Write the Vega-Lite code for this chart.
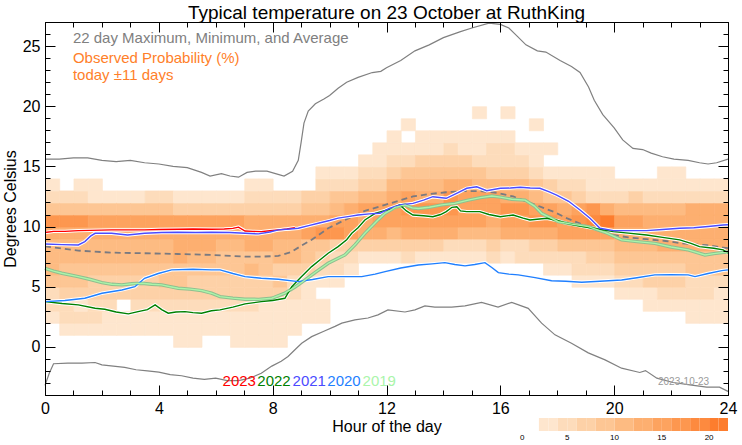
{
"$schema":"https://vega.github.io/schema/vega-lite/v6.json",
"width":683,"height":373,
"autosize":"none",
"padding":{"left":45,"top":22,"right":14,"bottom":50},
"config":{"font":"Liberation Sans","view":{"stroke":null},"axis":{"labelColor":"black","titleColor":"black","grid":false}},
"title":{"text":"Typical temperature on 23 October at RuthKing","fontSize":19,"fontWeight":"normal","color":"black","anchor":"middle","offset":-2},
"resolve":{"scale":{"color":"independent","strokeWidth":"independent"},"axis":{"x":"independent","y":"independent"}},
"datasets":{
"heat":[
{"h":0,"t":2,"p":3},{"h":0,"t":3,"p":5},{"h":0,"t":4,"p":5},{"h":0,"t":5,"p":9},{"h":0,"t":6,"p":11},{"h":0,"t":7,"p":11},{"h":0,"t":8,"p":11},{"h":0,"t":9,"p":13},{"h":0,"t":10,"p":17},{"h":0,"t":11,"p":9},{"h":0,"t":12,"p":5},{"h":0,"t":13,"p":3},
{"h":0.5,"t":1,"p":3},{"h":0.5,"t":2,"p":5},{"h":0.5,"t":3,"p":5},{"h":0.5,"t":4,"p":7},{"h":0.5,"t":5,"p":9},{"h":0.5,"t":6,"p":9},{"h":0.5,"t":7,"p":11},{"h":0.5,"t":8,"p":11},{"h":0.5,"t":9,"p":13},{"h":0.5,"t":10,"p":17},{"h":0.5,"t":11,"p":9},{"h":0.5,"t":12,"p":5},
{"h":1,"t":1,"p":3},{"h":1,"t":2,"p":5},{"h":1,"t":3,"p":3},{"h":1,"t":4,"p":7},{"h":1,"t":5,"p":9},{"h":1,"t":6,"p":9},{"h":1,"t":7,"p":11},{"h":1,"t":8,"p":11},{"h":1,"t":9,"p":13},{"h":1,"t":10,"p":17},{"h":1,"t":11,"p":9},{"h":1,"t":12,"p":5},{"h":1,"t":13,"p":3},
{"h":1.5,"t":1,"p":3},{"h":1.5,"t":2,"p":5},{"h":1.5,"t":3,"p":5},{"h":1.5,"t":4,"p":7},{"h":1.5,"t":5,"p":7},{"h":1.5,"t":6,"p":9},{"h":1.5,"t":7,"p":11},{"h":1.5,"t":8,"p":11},{"h":1.5,"t":9,"p":13},{"h":1.5,"t":10,"p":15},{"h":1.5,"t":11,"p":9},{"h":1.5,"t":12,"p":3},{"h":1.5,"t":13,"p":3},
{"h":2,"t":1,"p":3},{"h":2,"t":2,"p":3},{"h":2,"t":3,"p":5},{"h":2,"t":4,"p":7},{"h":2,"t":5,"p":7},{"h":2,"t":6,"p":9},{"h":2,"t":7,"p":11},{"h":2,"t":8,"p":11},{"h":2,"t":9,"p":13},{"h":2,"t":10,"p":15},{"h":2,"t":11,"p":9},{"h":2,"t":12,"p":3},
{"h":2.5,"t":1,"p":3},{"h":2.5,"t":2,"p":3},{"h":2.5,"t":4,"p":7},{"h":2.5,"t":5,"p":7},{"h":2.5,"t":6,"p":9},{"h":2.5,"t":7,"p":11},{"h":2.5,"t":8,"p":11},{"h":2.5,"t":9,"p":13},{"h":2.5,"t":10,"p":15},{"h":2.5,"t":11,"p":9},{"h":2.5,"t":12,"p":3},
{"h":3,"t":1,"p":3},{"h":3,"t":2,"p":3},{"h":3,"t":3,"p":5},{"h":3,"t":4,"p":7},{"h":3,"t":5,"p":7},{"h":3,"t":6,"p":9},{"h":3,"t":7,"p":11},{"h":3,"t":8,"p":11},{"h":3,"t":9,"p":13},{"h":3,"t":10,"p":15},{"h":3,"t":11,"p":9},{"h":3,"t":12,"p":3},
{"h":3.5,"t":1,"p":3},{"h":3.5,"t":2,"p":3},{"h":3.5,"t":3,"p":5},{"h":3.5,"t":4,"p":7},{"h":3.5,"t":5,"p":7},{"h":3.5,"t":6,"p":9},{"h":3.5,"t":7,"p":11},{"h":3.5,"t":8,"p":11},{"h":3.5,"t":9,"p":13},{"h":3.5,"t":10,"p":15},{"h":3.5,"t":11,"p":9},{"h":3.5,"t":12,"p":5},
{"h":4,"t":1,"p":3},{"h":4,"t":2,"p":3},{"h":4,"t":3,"p":5},{"h":4,"t":4,"p":7},{"h":4,"t":5,"p":9},{"h":4,"t":6,"p":9},{"h":4,"t":7,"p":11},{"h":4,"t":8,"p":11},{"h":4,"t":9,"p":13},{"h":4,"t":10,"p":15},{"h":4,"t":11,"p":9},{"h":4,"t":12,"p":5},
{"h":4.5,"t":0,"p":3},{"h":4.5,"t":1,"p":3},{"h":4.5,"t":2,"p":3},{"h":4.5,"t":3,"p":5},{"h":4.5,"t":4,"p":7},{"h":4.5,"t":5,"p":9},{"h":4.5,"t":6,"p":9},{"h":4.5,"t":7,"p":13},{"h":4.5,"t":8,"p":13},{"h":4.5,"t":9,"p":13},{"h":4.5,"t":10,"p":15},{"h":4.5,"t":11,"p":7},{"h":4.5,"t":12,"p":3},
{"h":5,"t":0,"p":3},{"h":5,"t":1,"p":3},{"h":5,"t":2,"p":3},{"h":5,"t":3,"p":5},{"h":5,"t":4,"p":7},{"h":5,"t":5,"p":7},{"h":5,"t":6,"p":9},{"h":5,"t":7,"p":11},{"h":5,"t":8,"p":13},{"h":5,"t":9,"p":13},{"h":5,"t":10,"p":15},{"h":5,"t":11,"p":7},{"h":5,"t":12,"p":3},
{"h":5.5,"t":1,"p":3},{"h":5.5,"t":2,"p":3},{"h":5.5,"t":3,"p":5},{"h":5.5,"t":4,"p":7},{"h":5.5,"t":5,"p":7},{"h":5.5,"t":6,"p":9},{"h":5.5,"t":7,"p":11},{"h":5.5,"t":8,"p":13},{"h":5.5,"t":9,"p":13},{"h":5.5,"t":10,"p":15},{"h":5.5,"t":11,"p":7},{"h":5.5,"t":12,"p":3},
{"h":6,"t":1,"p":3},{"h":6,"t":2,"p":3},{"h":6,"t":3,"p":5},{"h":6,"t":4,"p":7},{"h":6,"t":5,"p":7},{"h":6,"t":6,"p":9},{"h":6,"t":7,"p":9},{"h":6,"t":8,"p":11},{"h":6,"t":9,"p":13},{"h":6,"t":10,"p":15},{"h":6,"t":11,"p":7},{"h":6,"t":12,"p":3},
{"h":6.5,"t":0,"p":3},{"h":6.5,"t":1,"p":3},{"h":6.5,"t":2,"p":3},{"h":6.5,"t":3,"p":5},{"h":6.5,"t":4,"p":7},{"h":6.5,"t":5,"p":7},{"h":6.5,"t":6,"p":9},{"h":6.5,"t":7,"p":9},{"h":6.5,"t":8,"p":11},{"h":6.5,"t":9,"p":13},{"h":6.5,"t":10,"p":15},{"h":6.5,"t":11,"p":7},{"h":6.5,"t":12,"p":3},
{"h":7,"t":0,"p":3},{"h":7,"t":1,"p":3},{"h":7,"t":2,"p":3},{"h":7,"t":3,"p":5},{"h":7,"t":4,"p":7},{"h":7,"t":5,"p":7},{"h":7,"t":6,"p":11},{"h":7,"t":7,"p":9},{"h":7,"t":8,"p":13},{"h":7,"t":9,"p":13},{"h":7,"t":10,"p":13},{"h":7,"t":11,"p":7},{"h":7,"t":12,"p":5},{"h":7,"t":13,"p":3},
{"h":7.5,"t":0,"p":3},{"h":7.5,"t":1,"p":3},{"h":7.5,"t":2,"p":3},{"h":7.5,"t":3,"p":3},{"h":7.5,"t":4,"p":7},{"h":7.5,"t":5,"p":7},{"h":7.5,"t":6,"p":9},{"h":7.5,"t":7,"p":9},{"h":7.5,"t":8,"p":13},{"h":7.5,"t":9,"p":13},{"h":7.5,"t":10,"p":13},{"h":7.5,"t":11,"p":7},{"h":7.5,"t":12,"p":5},{"h":7.5,"t":13,"p":3},
{"h":8,"t":0,"p":3},{"h":8,"t":1,"p":3},{"h":8,"t":2,"p":3},{"h":8,"t":3,"p":3},{"h":8,"t":4,"p":7},{"h":8,"t":5,"p":9},{"h":8,"t":6,"p":7},{"h":8,"t":7,"p":11},{"h":8,"t":8,"p":11},{"h":8,"t":9,"p":13},{"h":8,"t":10,"p":13},{"h":8,"t":11,"p":7},{"h":8,"t":12,"p":5},
{"h":8.5,"t":1,"p":3},{"h":8.5,"t":2,"p":3},{"h":8.5,"t":3,"p":3},{"h":8.5,"t":4,"p":5},{"h":8.5,"t":5,"p":5},{"h":8.5,"t":6,"p":7},{"h":8.5,"t":7,"p":11},{"h":8.5,"t":8,"p":11},{"h":8.5,"t":9,"p":13},{"h":8.5,"t":10,"p":13},{"h":8.5,"t":11,"p":7},{"h":8.5,"t":12,"p":5},
{"h":9,"t":2,"p":3},{"h":9,"t":3,"p":3},{"h":9,"t":4,"p":3},{"h":9,"t":5,"p":3},{"h":9,"t":6,"p":7},{"h":9,"t":7,"p":9},{"h":9,"t":8,"p":9},{"h":9,"t":9,"p":15},{"h":9,"t":10,"p":13},{"h":9,"t":11,"p":9},{"h":9,"t":12,"p":7},
{"h":9.5,"t":2,"p":3},{"h":9.5,"t":3,"p":3},{"h":9.5,"t":5,"p":3},{"h":9.5,"t":6,"p":5},{"h":9.5,"t":7,"p":7},{"h":9.5,"t":8,"p":9},{"h":9.5,"t":9,"p":17},{"h":9.5,"t":10,"p":13},{"h":9.5,"t":11,"p":9},{"h":9.5,"t":12,"p":7},{"h":9.5,"t":13,"p":5},{"h":9.5,"t":14,"p":3},
{"h":10,"t":5,"p":3},{"h":10,"t":6,"p":5},{"h":10,"t":7,"p":5},{"h":10,"t":8,"p":7},{"h":10,"t":9,"p":17},{"h":10,"t":10,"p":15},{"h":10,"t":11,"p":11},{"h":10,"t":12,"p":9},{"h":10,"t":13,"p":5},{"h":10,"t":14,"p":3},
{"h":10.5,"t":6,"p":3},{"h":10.5,"t":7,"p":5},{"h":10.5,"t":8,"p":7},{"h":10.5,"t":9,"p":15},{"h":10.5,"t":10,"p":15},{"h":10.5,"t":11,"p":13},{"h":10.5,"t":12,"p":9},{"h":10.5,"t":13,"p":5},{"h":10.5,"t":14,"p":3},
{"h":11,"t":7,"p":3},{"h":11,"t":8,"p":7},{"h":11,"t":9,"p":13},{"h":11,"t":10,"p":13},{"h":11,"t":11,"p":15},{"h":11,"t":12,"p":11},{"h":11,"t":13,"p":7},{"h":11,"t":14,"p":5},{"h":11,"t":15,"p":3},
{"h":11.5,"t":7,"p":3},{"h":11.5,"t":8,"p":7},{"h":11.5,"t":9,"p":13},{"h":11.5,"t":10,"p":15},{"h":11.5,"t":11,"p":15},{"h":11.5,"t":12,"p":11},{"h":11.5,"t":13,"p":7},{"h":11.5,"t":14,"p":5},{"h":11.5,"t":15,"p":3},{"h":11.5,"t":16,"p":3},
{"h":12,"t":7,"p":3},{"h":12,"t":8,"p":7},{"h":12,"t":9,"p":11},{"h":12,"t":10,"p":15},{"h":12,"t":11,"p":15},{"h":12,"t":12,"p":13},{"h":12,"t":13,"p":11},{"h":12,"t":14,"p":7},{"h":12,"t":15,"p":5},{"h":12,"t":16,"p":3},{"h":12,"t":17,"p":3},
{"h":12.5,"t":7,"p":5},{"h":12.5,"t":8,"p":7},{"h":12.5,"t":9,"p":13},{"h":12.5,"t":10,"p":15},{"h":12.5,"t":11,"p":17},{"h":12.5,"t":12,"p":15},{"h":12.5,"t":13,"p":11},{"h":12.5,"t":14,"p":9},{"h":12.5,"t":15,"p":5},{"h":12.5,"t":16,"p":3},{"h":12.5,"t":18,"p":3},
{"h":13,"t":7,"p":3},{"h":13,"t":8,"p":7},{"h":13,"t":9,"p":13},{"h":13,"t":10,"p":15},{"h":13,"t":11,"p":17},{"h":13,"t":12,"p":13},{"h":13,"t":13,"p":11},{"h":13,"t":14,"p":9},{"h":13,"t":15,"p":7},{"h":13,"t":16,"p":3},{"h":13,"t":17,"p":3},
{"h":13.5,"t":7,"p":3},{"h":13.5,"t":8,"p":7},{"h":13.5,"t":9,"p":13},{"h":13.5,"t":10,"p":15},{"h":13.5,"t":11,"p":17},{"h":13.5,"t":12,"p":13},{"h":13.5,"t":13,"p":11},{"h":13.5,"t":14,"p":9},{"h":13.5,"t":15,"p":7},{"h":13.5,"t":16,"p":3},{"h":13.5,"t":17,"p":3},
{"h":14,"t":7,"p":3},{"h":14,"t":8,"p":5},{"h":14,"t":9,"p":13},{"h":14,"t":10,"p":15},{"h":14,"t":11,"p":17},{"h":14,"t":12,"p":17},{"h":14,"t":13,"p":13},{"h":14,"t":14,"p":9},{"h":14,"t":15,"p":7},{"h":14,"t":16,"p":5},{"h":14,"t":17,"p":3},
{"h":14.5,"t":7,"p":3},{"h":14.5,"t":8,"p":5},{"h":14.5,"t":9,"p":11},{"h":14.5,"t":10,"p":15},{"h":14.5,"t":11,"p":15},{"h":14.5,"t":12,"p":15},{"h":14.5,"t":13,"p":13},{"h":14.5,"t":14,"p":9},{"h":14.5,"t":15,"p":7},{"h":14.5,"t":16,"p":3},{"h":14.5,"t":17,"p":3},
{"h":15,"t":7,"p":3},{"h":15,"t":8,"p":5},{"h":15,"t":9,"p":11},{"h":15,"t":10,"p":15},{"h":15,"t":11,"p":15},{"h":15,"t":12,"p":15},{"h":15,"t":13,"p":11},{"h":15,"t":14,"p":9},{"h":15,"t":15,"p":5},{"h":15,"t":16,"p":3},{"h":15,"t":17,"p":3},{"h":15,"t":19,"p":3},
{"h":15.5,"t":7,"p":5},{"h":15.5,"t":8,"p":7},{"h":15.5,"t":9,"p":11},{"h":15.5,"t":10,"p":13},{"h":15.5,"t":11,"p":15},{"h":15.5,"t":12,"p":15},{"h":15.5,"t":13,"p":11},{"h":15.5,"t":14,"p":7},{"h":15.5,"t":15,"p":5},{"h":15.5,"t":16,"p":5},{"h":15.5,"t":17,"p":3},
{"h":16,"t":7,"p":3},{"h":16,"t":8,"p":5},{"h":16,"t":9,"p":13},{"h":16,"t":10,"p":15},{"h":16,"t":11,"p":17},{"h":16,"t":12,"p":13},{"h":16,"t":13,"p":11},{"h":16,"t":14,"p":7},{"h":16,"t":15,"p":5},{"h":16,"t":16,"p":5},{"h":16,"t":17,"p":3},{"h":16,"t":19,"p":3},
{"h":16.5,"t":7,"p":5},{"h":16.5,"t":8,"p":5},{"h":16.5,"t":9,"p":13},{"h":16.5,"t":10,"p":15},{"h":16.5,"t":11,"p":17},{"h":16.5,"t":12,"p":13},{"h":16.5,"t":13,"p":11},{"h":16.5,"t":14,"p":7},{"h":16.5,"t":15,"p":5},{"h":16.5,"t":16,"p":3},
{"h":17,"t":7,"p":5},{"h":17,"t":8,"p":7},{"h":17,"t":9,"p":13},{"h":17,"t":10,"p":17},{"h":17,"t":11,"p":15},{"h":17,"t":12,"p":11},{"h":17,"t":13,"p":9},{"h":17,"t":14,"p":5},{"h":17,"t":15,"p":3},{"h":17,"t":16,"p":3},{"h":17,"t":18,"p":3},
{"h":17.5,"t":6,"p":3},{"h":17.5,"t":7,"p":5},{"h":17.5,"t":8,"p":7},{"h":17.5,"t":9,"p":13},{"h":17.5,"t":10,"p":17},{"h":17.5,"t":11,"p":15},{"h":17.5,"t":12,"p":9},{"h":17.5,"t":13,"p":7},{"h":17.5,"t":14,"p":3},{"h":17.5,"t":16,"p":3},
{"h":18,"t":6,"p":3},{"h":18,"t":7,"p":5},{"h":18,"t":8,"p":9},{"h":18,"t":9,"p":15},{"h":18,"t":10,"p":15},{"h":18,"t":11,"p":13},{"h":18,"t":12,"p":9},{"h":18,"t":13,"p":5},{"h":18,"t":14,"p":3},
{"h":18.5,"t":5,"p":3},{"h":18.5,"t":6,"p":5},{"h":18.5,"t":7,"p":5},{"h":18.5,"t":8,"p":9},{"h":18.5,"t":9,"p":15},{"h":18.5,"t":10,"p":17},{"h":18.5,"t":11,"p":15},{"h":18.5,"t":12,"p":7},{"h":18.5,"t":13,"p":5},{"h":18.5,"t":14,"p":3},
{"h":19,"t":5,"p":3},{"h":19,"t":6,"p":5},{"h":19,"t":7,"p":7},{"h":19,"t":8,"p":9},{"h":19,"t":9,"p":15},{"h":19,"t":10,"p":19},{"h":19,"t":11,"p":17},{"h":19,"t":12,"p":5},{"h":19,"t":13,"p":3},{"h":19,"t":14,"p":3},
{"h":19.5,"t":5,"p":3},{"h":19.5,"t":6,"p":5},{"h":19.5,"t":7,"p":7},{"h":19.5,"t":8,"p":9},{"h":19.5,"t":9,"p":15},{"h":19.5,"t":10,"p":21},{"h":19.5,"t":11,"p":13},{"h":19.5,"t":12,"p":5},{"h":19.5,"t":13,"p":3},{"h":19.5,"t":14,"p":3},
{"h":20,"t":4,"p":3},{"h":20,"t":5,"p":5},{"h":20,"t":6,"p":7},{"h":20,"t":7,"p":9},{"h":20,"t":8,"p":11},{"h":20,"t":9,"p":13},{"h":20,"t":10,"p":15},{"h":20,"t":11,"p":11},{"h":20,"t":12,"p":5},{"h":20,"t":13,"p":3},
{"h":20.5,"t":4,"p":3},{"h":20.5,"t":5,"p":5},{"h":20.5,"t":6,"p":7},{"h":20.5,"t":7,"p":9},{"h":20.5,"t":8,"p":11},{"h":20.5,"t":9,"p":13},{"h":20.5,"t":10,"p":15},{"h":20.5,"t":11,"p":11},{"h":20.5,"t":12,"p":7},{"h":20.5,"t":13,"p":3},
{"h":21,"t":3,"p":3},{"h":21,"t":4,"p":3},{"h":21,"t":5,"p":7},{"h":21,"t":6,"p":7},{"h":21,"t":7,"p":9},{"h":21,"t":8,"p":11},{"h":21,"t":9,"p":13},{"h":21,"t":10,"p":13},{"h":21,"t":11,"p":11},{"h":21,"t":12,"p":5},{"h":21,"t":13,"p":3},
{"h":21.5,"t":3,"p":3},{"h":21.5,"t":4,"p":5},{"h":21.5,"t":5,"p":7},{"h":21.5,"t":6,"p":7},{"h":21.5,"t":7,"p":9},{"h":21.5,"t":8,"p":13},{"h":21.5,"t":9,"p":13},{"h":21.5,"t":10,"p":13},{"h":21.5,"t":11,"p":11},{"h":21.5,"t":12,"p":5},{"h":21.5,"t":13,"p":3},{"h":21.5,"t":14,"p":3},
{"h":22,"t":3,"p":3},{"h":22,"t":4,"p":5},{"h":22,"t":5,"p":7},{"h":22,"t":6,"p":7},{"h":22,"t":7,"p":9},{"h":22,"t":8,"p":13},{"h":22,"t":9,"p":13},{"h":22,"t":10,"p":13},{"h":22,"t":11,"p":11},{"h":22,"t":12,"p":5},{"h":22,"t":13,"p":3},{"h":22,"t":14,"p":3},
{"h":22.5,"t":2,"p":3},{"h":22.5,"t":3,"p":3},{"h":22.5,"t":4,"p":5},{"h":22.5,"t":5,"p":5},{"h":22.5,"t":6,"p":9},{"h":22.5,"t":7,"p":9},{"h":22.5,"t":8,"p":13},{"h":22.5,"t":9,"p":13},{"h":22.5,"t":10,"p":13},{"h":22.5,"t":11,"p":13},{"h":22.5,"t":12,"p":5},{"h":22.5,"t":13,"p":3},
{"h":23,"t":2,"p":3},{"h":23,"t":3,"p":3},{"h":23,"t":4,"p":5},{"h":23,"t":5,"p":5},{"h":23,"t":6,"p":9},{"h":23,"t":7,"p":9},{"h":23,"t":8,"p":13},{"h":23,"t":9,"p":13},{"h":23,"t":10,"p":13},{"h":23,"t":11,"p":13},{"h":23,"t":12,"p":5},{"h":23,"t":13,"p":3},
{"h":23.5,"t":2,"p":3},{"h":23.5,"t":3,"p":3},{"h":23.5,"t":4,"p":3},{"h":23.5,"t":5,"p":5},{"h":23.5,"t":6,"p":9},{"h":23.5,"t":7,"p":9},{"h":23.5,"t":8,"p":13},{"h":23.5,"t":9,"p":13},{"h":23.5,"t":10,"p":13},{"h":23.5,"t":11,"p":13},{"h":23.5,"t":12,"p":5},{"h":23.5,"t":13,"p":3}
],
"mm":[
{"h":0,"v":15.6,"s":"max"},{"h":0.5,"v":15.6,"s":"max"},{"h":1,"v":15.7,"s":"max"},{"h":1.5,"v":15.7,"s":"max"},{"h":2,"v":15.5,"s":"max"},{"h":2.5,"v":15.4,"s":"max"},{"h":3,"v":15.5,"s":"max"},{"h":3.5,"v":15.3,"s":"max"},{"h":4,"v":15.2,"s":"max"},{"h":4.5,"v":15.0,"s":"max"},{"h":5,"v":14.9,"s":"max"},{"h":5.5,"v":14.5,"s":"max"},{"h":5.8,"v":14.2,"s":"max"},{"h":6.2,"v":14.4,"s":"max"},{"h":6.5,"v":14.2,"s":"max"},{"h":6.8,"v":14.1,"s":"max"},{"h":7.1,"v":14.5,"s":"max"},{"h":7.4,"v":14.6,"s":"max"},{"h":7.8,"v":14.6,"s":"max"},{"h":8.1,"v":14.4,"s":"max"},{"h":8.4,"v":14.2,"s":"max"},{"h":8.7,"v":14.6,"s":"max"},{"h":8.9,"v":15.5,"s":"max"},{"h":9.0,"v":17.0,"s":"max"},{"h":9.1,"v":18.6,"s":"max"},{"h":9.25,"v":19.6,"s":"max"},{"h":9.5,"v":20.2,"s":"max"},{"h":9.8,"v":20.6,"s":"max"},{"h":10,"v":20.9,"s":"max"},{"h":10.3,"v":21.5,"s":"max"},{"h":10.6,"v":22.0,"s":"max"},{"h":11,"v":22.4,"s":"max"},{"h":11.5,"v":22.8,"s":"max"},{"h":11.8,"v":22.9,"s":"max"},{"h":12,"v":23.2,"s":"max"},{"h":12.5,"v":23.8,"s":"max"},{"h":13,"v":24.6,"s":"max"},{"h":13.5,"v":25.1,"s":"max"},{"h":14,"v":25.7,"s":"max"},{"h":14.6,"v":26.2,"s":"max"},{"h":15,"v":26.5,"s":"max"},{"h":15.6,"v":26.9,"s":"max"},{"h":16,"v":26.8,"s":"max"},{"h":16.3,"v":26.5,"s":"max"},{"h":16.6,"v":25.8,"s":"max"},{"h":16.9,"v":25.1,"s":"max"},{"h":17.3,"v":24.6,"s":"max"},{"h":17.6,"v":24.5,"s":"max"},{"h":18.1,"v":23.8,"s":"max"},{"h":18.5,"v":23.3,"s":"max"},{"h":18.8,"v":22.8,"s":"max"},{"h":19.1,"v":21.6,"s":"max"},{"h":19.3,"v":20.5,"s":"max"},{"h":19.6,"v":19.3,"s":"max"},{"h":20,"v":18.2,"s":"max"},{"h":20.3,"v":17.2,"s":"max"},{"h":20.66,"v":16.5,"s":"max"},{"h":21,"v":16.4,"s":"max"},{"h":21.3,"v":16.1,"s":"max"},{"h":21.7,"v":15.8,"s":"max"},{"h":22.1,"v":15.6,"s":"max"},{"h":22.6,"v":15.5,"s":"max"},{"h":23,"v":15.3,"s":"max"},{"h":23.3,"v":15.2,"s":"max"},{"h":23.6,"v":15.3,"s":"max"},{"h":24,"v":15.6,"s":"max"},
{"h":0,"v":-3.2,"s":"min"},{"h":0.15,"v":-2.2,"s":"min"},{"h":0.3,"v":-1.4,"s":"min"},{"h":0.8,"v":-1.35,"s":"min"},{"h":1.3,"v":-1.35,"s":"min"},{"h":1.76,"v":-1.3,"s":"min"},{"h":2,"v":-1.5,"s":"min"},{"h":2.4,"v":-1.6,"s":"min"},{"h":2.8,"v":-1.7,"s":"min"},{"h":3.2,"v":-1.9,"s":"min"},{"h":3.6,"v":-2.0,"s":"min"},{"h":4,"v":-2.1,"s":"min"},{"h":4.4,"v":-2.3,"s":"min"},{"h":4.8,"v":-2.4,"s":"min"},{"h":5.2,"v":-2.6,"s":"min"},{"h":5.6,"v":-2.7,"s":"min"},{"h":6,"v":-2.6,"s":"min"},{"h":6.4,"v":-2.8,"s":"min"},{"h":6.8,"v":-2.8,"s":"min"},{"h":7.2,"v":-2.6,"s":"min"},{"h":7.6,"v":-2.2,"s":"min"},{"h":7.97,"v":-1.6,"s":"min"},{"h":8.3,"v":-1.2,"s":"min"},{"h":8.54,"v":-0.8,"s":"min"},{"h":8.8,"v":-0.2,"s":"min"},{"h":9.02,"v":0.3,"s":"min"},{"h":9.37,"v":0.85,"s":"min"},{"h":9.8,"v":1.3,"s":"min"},{"h":10.19,"v":1.7,"s":"min"},{"h":10.43,"v":1.97,"s":"min"},{"h":10.89,"v":2.24,"s":"min"},{"h":11.35,"v":2.4,"s":"min"},{"h":11.7,"v":2.66,"s":"min"},{"h":12.05,"v":3.07,"s":"min"},{"h":12.65,"v":2.9,"s":"min"},{"h":13,"v":3.07,"s":"min"},{"h":13.35,"v":3.4,"s":"min"},{"h":13.7,"v":3.3,"s":"min"},{"h":14.29,"v":3.3,"s":"min"},{"h":14.76,"v":3.4,"s":"min"},{"h":15.34,"v":3.7,"s":"min"},{"h":15.92,"v":3.3,"s":"min"},{"h":16.4,"v":3.7,"s":"min"},{"h":16.98,"v":3.2,"s":"min"},{"h":17.45,"v":1.97,"s":"min"},{"h":17.92,"v":1.0,"s":"min"},{"h":18.5,"v":0.3,"s":"min"},{"h":19.09,"v":-0.5,"s":"min"},{"h":19.68,"v":-1.08,"s":"min"},{"h":20.26,"v":-1.77,"s":"min"},{"h":20.9,"v":-2.13,"s":"min"},{"h":21.1,"v":-1.97,"s":"min"},{"h":21.5,"v":-2.6,"s":"min"},{"h":22.07,"v":-2.96,"s":"min"},{"h":22.66,"v":-3.16,"s":"min"},{"h":23.25,"v":-3.35,"s":"min"},{"h":23.7,"v":-3.35,"s":"min"},{"h":24,"v":-3.7,"s":"min"}
],
"avg":[
{"h":0,"v":8.35},{"h":0.5,"v":8.2},{"h":1.17,"v":8.0},{"h":2.34,"v":7.83},{"h":3.5,"v":7.78},{"h":4.67,"v":7.72},{"h":5.85,"v":7.64},{"h":7.03,"v":7.5},{"h":7.6,"v":7.5},{"h":8.2,"v":7.56},{"h":8.67,"v":7.9},{"h":9,"v":8.4},{"h":9.37,"v":8.9},{"h":9.95,"v":9.86},{"h":10.54,"v":10.55},{"h":11.24,"v":11.3},{"h":11.95,"v":11.8},{"h":12.5,"v":12.2},{"h":12.93,"v":12.5},{"h":13.5,"v":12.7},{"h":14.1,"v":12.85},{"h":14.7,"v":12.95},{"h":15.28,"v":12.95},{"h":15.9,"v":12.8},{"h":16.45,"v":12.5},{"h":16.9,"v":12.1},{"h":17.4,"v":11.65},{"h":17.9,"v":11.2},{"h":18.33,"v":10.7},{"h":19.05,"v":10.0},{"h":19.96,"v":9.3},{"h":20.5,"v":9.1},{"h":21.14,"v":8.95},{"h":21.8,"v":8.8},{"h":22.4,"v":8.6},{"h":23.25,"v":8.45},{"h":23.83,"v":8.25},{"h":24,"v":8.2}
],
"yrs":[
{"h":0,"v":9.5,"y":"2023"},{"h":0.3,"v":9.6,"y":"2023"},{"h":0.7,"v":9.6,"y":"2023"},{"h":1.17,"v":9.66,"y":"2023"},{"h":1.6,"v":9.68,"y":"2023"},{"h":2.34,"v":9.72,"y":"2023"},{"h":3,"v":9.72,"y":"2023"},{"h":3.5,"v":9.72,"y":"2023"},{"h":4,"v":9.75,"y":"2023"},{"h":4.67,"v":9.77,"y":"2023"},{"h":5.2,"v":9.8,"y":"2023"},{"h":5.85,"v":9.77,"y":"2023"},{"h":6.3,"v":9.8,"y":"2023"},{"h":6.6,"v":9.85,"y":"2023"},{"h":6.8,"v":9.95,"y":"2023"},{"h":7.03,"v":9.63,"y":"2023"},{"h":7.3,"v":9.6,"y":"2023"},{"h":7.6,"v":9.58,"y":"2023"},{"h":7.9,"v":9.65,"y":"2023"},{"h":8.2,"v":9.72,"y":"2023"},{"h":8.5,"v":9.8,"y":"2023"},{"h":8.78,"v":9.9,"y":"2023"},
{"h":0,"v":3.76,"y":"2022"},{"h":0.6,"v":3.6,"y":"2022"},{"h":1.17,"v":3.49,"y":"2022"},{"h":1.76,"v":3.21,"y":"2022"},{"h":2.1,"v":3.13,"y":"2022"},{"h":2.5,"v":2.9,"y":"2022"},{"h":2.93,"v":2.74,"y":"2022"},{"h":3.27,"v":2.93,"y":"2022"},{"h":3.6,"v":3.1,"y":"2022"},{"h":3.87,"v":3.49,"y":"2022"},{"h":4.1,"v":3.1,"y":"2022"},{"h":4.33,"v":2.8,"y":"2022"},{"h":4.6,"v":2.9,"y":"2022"},{"h":4.92,"v":2.93,"y":"2022"},{"h":5.2,"v":2.85,"y":"2022"},{"h":5.5,"v":2.8,"y":"2022"},{"h":5.85,"v":3.0,"y":"2022"},{"h":6.15,"v":3.07,"y":"2022"},{"h":6.6,"v":3.3,"y":"2022"},{"h":7.03,"v":3.57,"y":"2022"},{"h":7.6,"v":3.76,"y":"2022"},{"h":8,"v":3.85,"y":"2022"},{"h":8.43,"v":4.04,"y":"2022"},{"h":8.67,"v":5.0,"y":"2022"},{"h":9,"v":5.8,"y":"2022"},{"h":9.37,"v":6.67,"y":"2022"},{"h":9.7,"v":7.3,"y":"2022"},{"h":9.95,"v":7.78,"y":"2022"},{"h":10.3,"v":8.33,"y":"2022"},{"h":10.6,"v":8.9,"y":"2022"},{"h":10.78,"v":9.44,"y":"2022"},{"h":11,"v":9.9,"y":"2022"},{"h":11.24,"v":10.55,"y":"2022"},{"h":11.6,"v":11.1,"y":"2022"},{"h":11.9,"v":11.3,"y":"2022"},{"h":12.2,"v":11.5,"y":"2022"},{"h":12.47,"v":11.8,"y":"2022"},{"h":12.7,"v":11.3,"y":"2022"},{"h":12.93,"v":10.96,"y":"2022"},{"h":13.3,"v":10.9,"y":"2022"},{"h":13.63,"v":10.82,"y":"2022"},{"h":13.9,"v":11.0,"y":"2022"},{"h":14.1,"v":11.24,"y":"2022"},{"h":14.3,"v":11.6,"y":"2022"},{"h":14.47,"v":11.65,"y":"2022"},{"h":14.6,"v":11.3,"y":"2022"},{"h":14.82,"v":11.24,"y":"2022"},{"h":15.28,"v":11.24,"y":"2022"},{"h":15.6,"v":11.0,"y":"2022"},{"h":16,"v":10.82,"y":"2022"},{"h":16.45,"v":10.96,"y":"2022"},{"h":16.8,"v":10.7,"y":"2022"},{"h":17.04,"v":10.55,"y":"2022"},{"h":17.63,"v":10.69,"y":"2022"},{"h":18,"v":10.5,"y":"2022"},{"h":18.33,"v":10.27,"y":"2022"},{"h":18.8,"v":10.05,"y":"2022"},{"h":19.27,"v":9.86,"y":"2022"},{"h":19.97,"v":9.58,"y":"2022"},{"h":20.5,"v":9.45,"y":"2022"},{"h":21.14,"v":9.3,"y":"2022"},{"h":21.7,"v":9.1,"y":"2022"},{"h":22.3,"v":8.89,"y":"2022"},{"h":22.7,"v":8.6,"y":"2022"},{"h":23,"v":8.33,"y":"2022"},{"h":23.5,"v":8.2,"y":"2022"},{"h":23.83,"v":8.06,"y":"2022"},{"h":24,"v":7.8,"y":"2022"},
{"h":0,"v":8.55,"y":"2021"},{"h":0.6,"v":8.5,"y":"2021"},{"h":1.17,"v":8.47,"y":"2021"},{"h":1.4,"v":8.75,"y":"2021"},{"h":1.6,"v":9.2,"y":"2021"},{"h":1.76,"v":9.44,"y":"2021"},{"h":2.34,"v":9.44,"y":"2021"},{"h":2.9,"v":9.3,"y":"2021"},{"h":3.5,"v":9.44,"y":"2021"},{"h":4.1,"v":9.5,"y":"2021"},{"h":4.67,"v":9.52,"y":"2021"},{"h":5.3,"v":9.5,"y":"2021"},{"h":5.85,"v":9.52,"y":"2021"},{"h":6.5,"v":9.5,"y":"2021"},{"h":7.03,"v":9.44,"y":"2021"},{"h":7.5,"v":9.39,"y":"2021"},{"h":7.9,"v":9.55,"y":"2021"},{"h":8.2,"v":9.72,"y":"2021"},{"h":8.6,"v":9.8,"y":"2021"},{"h":8.9,"v":9.86,"y":"2021"},{"h":9.3,"v":10.1,"y":"2021"},{"h":9.6,"v":10.27,"y":"2021"},{"h":10,"v":10.5,"y":"2021"},{"h":10.3,"v":10.7,"y":"2021"},{"h":10.7,"v":10.85,"y":"2021"},{"h":11,"v":10.96,"y":"2021"},{"h":11.4,"v":11.05,"y":"2021"},{"h":11.77,"v":11.1,"y":"2021"},{"h":12.1,"v":11.5,"y":"2021"},{"h":12.47,"v":11.8,"y":"2021"},{"h":12.93,"v":11.93,"y":"2021"},{"h":13.3,"v":12.2,"y":"2021"},{"h":13.63,"v":12.48,"y":"2021"},{"h":14.1,"v":12.35,"y":"2021"},{"h":14.5,"v":12.8,"y":"2021"},{"h":14.82,"v":13.18,"y":"2021"},{"h":15.17,"v":13.3,"y":"2021"},{"h":15.52,"v":12.98,"y":"2021"},{"h":16,"v":13.18,"y":"2021"},{"h":16.35,"v":13.2,"y":"2021"},{"h":16.7,"v":13.26,"y":"2021"},{"h":17.05,"v":13.2,"y":"2021"},{"h":17.39,"v":13.18,"y":"2021"},{"h":17.7,"v":12.9,"y":"2021"},{"h":17.98,"v":12.62,"y":"2021"},{"h":18.4,"v":12.1,"y":"2021"},{"h":18.8,"v":11.38,"y":"2021"},{"h":19.15,"v":10.69,"y":"2021"},{"h":19.5,"v":9.86,"y":"2021"},{"h":19.97,"v":9.66,"y":"2021"},{"h":20.5,"v":9.66,"y":"2021"},{"h":21.14,"v":9.66,"y":"2021"},{"h":21.7,"v":9.75,"y":"2021"},{"h":22.3,"v":9.86,"y":"2021"},{"h":22.8,"v":9.9,"y":"2021"},{"h":23.3,"v":10.0,"y":"2021"},{"h":23.83,"v":10.13,"y":"2021"},{"h":24,"v":10.15,"y":"2021"},
{"h":0,"v":3.76,"y":"2020"},{"h":0.7,"v":3.85,"y":"2020"},{"h":1.4,"v":4.04,"y":"2020"},{"h":2,"v":4.46,"y":"2020"},{"h":2.7,"v":4.73,"y":"2020"},{"h":3.16,"v":5.0,"y":"2020"},{"h":3.5,"v":5.7,"y":"2020"},{"h":3.98,"v":6.1,"y":"2020"},{"h":4.45,"v":6.4,"y":"2020"},{"h":5.2,"v":6.45,"y":"2020"},{"h":5.85,"v":6.4,"y":"2020"},{"h":6.15,"v":6.4,"y":"2020"},{"h":6.6,"v":6.1,"y":"2020"},{"h":7.03,"v":5.84,"y":"2020"},{"h":7.6,"v":5.7,"y":"2020"},{"h":8.2,"v":5.62,"y":"2020"},{"h":8.9,"v":5.42,"y":"2020"},{"h":9.4,"v":5.6,"y":"2020"},{"h":9.95,"v":5.84,"y":"2020"},{"h":10.5,"v":5.84,"y":"2020"},{"h":11.13,"v":5.84,"y":"2020"},{"h":11.6,"v":6.05,"y":"2020"},{"h":11.95,"v":6.25,"y":"2020"},{"h":12.5,"v":6.55,"y":"2020"},{"h":13.12,"v":6.8,"y":"2020"},{"h":13.6,"v":6.9,"y":"2020"},{"h":14.05,"v":7.0,"y":"2020"},{"h":14.4,"v":6.85,"y":"2020"},{"h":14.76,"v":6.73,"y":"2020"},{"h":15.1,"v":6.85,"y":"2020"},{"h":15.46,"v":7.0,"y":"2020"},{"h":15.7,"v":6.6,"y":"2020"},{"h":15.93,"v":6.17,"y":"2020"},{"h":16.3,"v":6.05,"y":"2020"},{"h":16.63,"v":5.98,"y":"2020"},{"h":17.22,"v":5.76,"y":"2020"},{"h":17.8,"v":5.5,"y":"2020"},{"h":18.3,"v":5.45,"y":"2020"},{"h":18.86,"v":5.37,"y":"2020"},{"h":19.5,"v":5.45,"y":"2020"},{"h":20.26,"v":5.56,"y":"2020"},{"h":20.8,"v":5.75,"y":"2020"},{"h":21.43,"v":5.98,"y":"2020"},{"h":22,"v":6.0,"y":"2020"},{"h":22.6,"v":5.98,"y":"2020"},{"h":22.84,"v":5.84,"y":"2020"},{"h":23.3,"v":6.1,"y":"2020"},{"h":23.78,"v":6.34,"y":"2020"},{"h":24,"v":6.4,"y":"2020"},
{"h":0,"v":6.53,"y":"2019"},{"h":0.3,"v":6.3,"y":"2019"},{"h":0.59,"v":6.12,"y":"2019"},{"h":1.17,"v":5.84,"y":"2019"},{"h":1.6,"v":5.6,"y":"2019"},{"h":2,"v":5.34,"y":"2019"},{"h":2.35,"v":5.2,"y":"2019"},{"h":2.7,"v":5.15,"y":"2019"},{"h":3.05,"v":5.25,"y":"2019"},{"h":3.4,"v":5.29,"y":"2019"},{"h":3.75,"v":5.2,"y":"2019"},{"h":4.1,"v":5.15,"y":"2019"},{"h":4.4,"v":5.0,"y":"2019"},{"h":4.68,"v":4.87,"y":"2019"},{"h":5.1,"v":4.8,"y":"2019"},{"h":5.5,"v":4.68,"y":"2019"},{"h":5.85,"v":4.46,"y":"2019"},{"h":6.15,"v":4.18,"y":"2019"},{"h":6.6,"v":4.05,"y":"2019"},{"h":7.03,"v":3.96,"y":"2019"},{"h":7.5,"v":3.95,"y":"2019"},{"h":7.97,"v":4.04,"y":"2019"},{"h":8.43,"v":4.46,"y":"2019"},{"h":8.8,"v":5.0,"y":"2019"},{"h":9.14,"v":5.56,"y":"2019"},{"h":9.5,"v":6.2,"y":"2019"},{"h":9.95,"v":6.95,"y":"2019"},{"h":10.54,"v":7.64,"y":"2019"},{"h":10.9,"v":8.5,"y":"2019"},{"h":11.24,"v":9.44,"y":"2019"},{"h":11.7,"v":10.55,"y":"2019"},{"h":11.95,"v":11.1,"y":"2019"},{"h":12.3,"v":11.6,"y":"2019"},{"h":12.65,"v":11.8,"y":"2019"},{"h":12.9,"v":11.55,"y":"2019"},{"h":13.12,"v":11.5,"y":"2019"},{"h":13.5,"v":11.6,"y":"2019"},{"h":13.94,"v":11.8,"y":"2019"},{"h":14.4,"v":11.93,"y":"2019"},{"h":14.87,"v":12.2,"y":"2019"},{"h":15.3,"v":12.4,"y":"2019"},{"h":15.7,"v":12.54,"y":"2019"},{"h":16,"v":12.45,"y":"2019"},{"h":16.4,"v":12.27,"y":"2019"},{"h":16.87,"v":12.2,"y":"2019"},{"h":17.2,"v":11.7,"y":"2019"},{"h":17.45,"v":11.1,"y":"2019"},{"h":18.04,"v":10.4,"y":"2019"},{"h":18.5,"v":10.2,"y":"2019"},{"h":19.09,"v":9.99,"y":"2019"},{"h":19.7,"v":9.5,"y":"2019"},{"h":20.26,"v":8.89,"y":"2019"},{"h":20.8,"v":8.75,"y":"2019"},{"h":21.43,"v":8.6,"y":"2019"},{"h":22,"v":8.3,"y":"2019"},{"h":22.6,"v":8.06,"y":"2019"},{"h":23.19,"v":7.64,"y":"2019"},{"h":23.5,"v":7.75,"y":"2019"},{"h":23.78,"v":7.83,"y":"2019"},{"h":24,"v":7.9,"y":"2019"}
]
},
"layer":[
{"data":{"name":"heat"},
 "mark":{"type":"rect","binSpacing":0,"strokeWidth":0.7},
 "encoding":{
  "x":{"field":"h","type":"quantitative","bin":{"binned":true,"step":0.5},"scale":{"domain":[0,24],"nice":false,"zero":false},
       "axis":{"orient":"bottom","values":[0,4,8,12,16,20,24],"format":"d","ticks":false,"domain":false,"labelFontSize":16,"labelPadding":5,"labelFlush":false,"title":"Hour of the day","titleFontSize":16,"titleFontWeight":"normal","titlePadding":2}},
  "y":{"field":"t","type":"quantitative","bin":{"binned":true,"step":1},"scale":{"domain":[-4,27],"nice":false,"zero":false},
       "axis":{"orient":"left","values":[0,5,10,15,20,25],"format":"d","ticks":false,"domain":false,"labelFontSize":16,"labelPadding":5,"title":"Degrees Celsius","titleFontSize":16,"titleFontWeight":"normal","titlePadding":4}},
  "color":{"field":"p","type":"quantitative",
    "scale":{"type":"quantize","domain":[0,22],"nice":false,"zero":false,
      "range":["#ffffff","#ffffff","#fee6ce","#fee6ce","#fddcbb","#fddcbb","#fdd1a7","#fdd1a7","#fdc694","#fdc694","#fdbb82","#fdbb82","#fdaf70","#fdaf70","#fda35f","#fda35f","#fd974f","#fd974f","#fd8a3f","#fd8a3f","#fd7d2e","#fd7d2e"]},
    "legend":{"type":"gradient","orient":"none","direction":"horizontal","legendX":475,"legendY":396,"gradientLength":208,"gradientThickness":13,"title":null,"labelExpr":"datum.index === 0 ? '0' : (datum.value % 5 === 0 ? datum.label : '')","labelFontSize":8,"labelOverlap":false,"labelAlign":"center","labelColor":"black","labelOffset":3}},
  "stroke":{"field":"p","type":"quantitative",
    "scale":{"type":"quantize","domain":[0,22],"nice":false,"zero":false,
      "range":["#ffffff","#ffffff","#fee6ce","#fee6ce","#fddcbb","#fddcbb","#fdd1a7","#fdd1a7","#fdc694","#fdc694","#fdbb82","#fdbb82","#fdaf70","#fdaf70","#fda35f","#fda35f","#fd974f","#fd974f","#fd8a3f","#fd8a3f","#fd7d2e","#fd7d2e"]},
    "legend":null}
 }},
{"data":{"name":"mm"},
 "mark":{"type":"line","color":"#808080","strokeWidth":1.2},
 "encoding":{
  "x":{"field":"h","type":"quantitative","axis":{"orient":"bottom","values":[0,4,8,12,16,20,24],"labels":false,"title":null,"ticks":true,"tickSize":-10,"tickColor":"black","domain":true,"domainColor":"black","zindex":2}},
  "y":{"field":"v","type":"quantitative","axis":{"orient":"left","values":[0,5,10,15,20,25],"labels":false,"title":null,"ticks":true,"tickSize":-10,"tickColor":"black","domain":true,"domainColor":"black","zindex":2}},
  "detail":{"field":"s"}
 }},
{"data":{"name":"avg"},
 "mark":{"type":"line","color":"#7a7a80","strokeWidth":1.8,"strokeDash":[6,4]},
 "encoding":{
  "x":{"field":"h","type":"quantitative","axis":{"orient":"bottom","values":[0,1,2,3,4,5,6,7,8,9,10,11,12,13,14,15,16,17,18,19,20,21,22,23,24],"labels":false,"title":null,"ticks":true,"tickSize":-5,"tickColor":"black","domain":false,"zindex":2}},
  "y":{"field":"v","type":"quantitative","axis":{"orient":"left","values":[-4,-3,-2,-1,0,1,2,3,4,5,6,7,8,9,10,11,12,13,14,15,16,17,18,19,20,21,22,23,24,25,26,27],"labels":false,"title":null,"ticks":true,"tickSize":-5,"tickColor":"black","domain":false,"zindex":2}}
 }},
{"data":{"name":"yrs"},
 "mark":{"type":"line","strokeWidth":3.4},
 "encoding":{
  "x":{"field":"h","type":"quantitative","axis":{"orient":"top","values":[0,4,8,12,16,20,24],"labels":false,"title":null,"ticks":true,"tickSize":-10,"tickColor":"black","domain":true,"domainColor":"black","zindex":2}},
  "y":{"field":"v","type":"quantitative","axis":{"orient":"right","values":[0,5,10,15,20,25],"labels":false,"title":null,"ticks":true,"tickSize":-10,"tickColor":"black","domain":true,"domainColor":"black","zindex":2}},
  "color":{"field":"y","type":"nominal","sort":null,"scale":{"domain":["2023","2022","2021","2020","2019"],"range":["#ffffff","#ffffff","#ffffff","#ffffff","#8fbf8f"]},"legend":null}
 }},
{"data":{"name":"yrs"},
 "mark":{"type":"line"},
 "encoding":{
  "x":{"field":"h","type":"quantitative","axis":{"orient":"top","values":[0,1,2,3,4,5,6,7,8,9,10,11,12,13,14,15,16,17,18,19,20,21,22,23,24],"labels":false,"title":null,"ticks":true,"tickSize":-5,"tickColor":"black","domain":false,"zindex":2}},
  "y":{"field":"v","type":"quantitative","axis":{"orient":"right","values":[-4,-3,-2,-1,0,1,2,3,4,5,6,7,8,9,10,11,12,13,14,15,16,17,18,19,20,21,22,23,24,25,26,27],"labels":false,"title":null,"ticks":true,"tickSize":-5,"tickColor":"black","domain":false,"zindex":2}},
  "color":{"field":"y","type":"nominal","sort":null,"scale":{"domain":["2023","2022","2021","2020","2019"],"range":["#ff0000","#008000","#4b4bff","#1f7fff","#aaf5aa"]},"legend":null},
  "strokeWidth":{"field":"y","type":"ordinal","sort":null,"scale":{"domain":["2023","2022","2021","2020","2019"],"range":[1.4,1.4,1.4,1.4,2.4]},"legend":null}
 }},
{"data":{"values":[{}]},"mark":{"type":"text","text":"22 day Maximum, Minimum, and Average","align":"left","baseline":"middle","fontSize":15,"color":"#808080"},
 "encoding":{"x":{"datum":0.98,"type":"quantitative","axis":null},"y":{"datum":25.66,"type":"quantitative","axis":null}}},
{"data":{"values":[{}]},"mark":{"type":"text","text":"Observed Probability (%)","align":"left","baseline":"middle","fontSize":15,"color":"#ff7f2a"},
 "encoding":{"x":{"datum":0.98,"type":"quantitative","axis":null},"y":{"datum":24.0,"type":"quantitative","axis":null}}},
{"data":{"values":[{}]},"mark":{"type":"text","text":"today ±11 days","align":"left","baseline":"middle","fontSize":15,"color":"#ff7f2a"},
 "encoding":{"x":{"datum":0.98,"type":"quantitative","axis":null},"y":{"datum":22.6,"type":"quantitative","axis":null}}},
{"data":{"values":[{}]},"mark":{"type":"text","text":"2023","align":"left","baseline":"middle","fontSize":15,"color":"#ff0000"},
 "encoding":{"x":{"datum":6.24,"type":"quantitative","axis":null},"y":{"datum":-2.8,"type":"quantitative","axis":null}}},
{"data":{"values":[{}]},"mark":{"type":"text","text":"2022","align":"left","baseline":"middle","fontSize":15,"color":"#008000"},
 "encoding":{"x":{"datum":7.46,"type":"quantitative","axis":null},"y":{"datum":-2.8,"type":"quantitative","axis":null}}},
{"data":{"values":[{}]},"mark":{"type":"text","text":"2021","align":"left","baseline":"middle","fontSize":15,"color":"#4b4bff"},
 "encoding":{"x":{"datum":8.7,"type":"quantitative","axis":null},"y":{"datum":-2.8,"type":"quantitative","axis":null}}},
{"data":{"values":[{}]},"mark":{"type":"text","text":"2020","align":"left","baseline":"middle","fontSize":15,"color":"#1f7fff"},
 "encoding":{"x":{"datum":9.92,"type":"quantitative","axis":null},"y":{"datum":-2.8,"type":"quantitative","axis":null}}},
{"data":{"values":[{}]},"mark":{"type":"text","text":"2019","align":"left","baseline":"middle","fontSize":15,"color":"#aaf5aa"},
 "encoding":{"x":{"datum":11.16,"type":"quantitative","axis":null},"y":{"datum":-2.8,"type":"quantitative","axis":null}}},
{"data":{"values":[{}]},"mark":{"type":"text","text":"2023-10-23","align":"left","baseline":"middle","fontSize":10,"color":"#9a9a9a"},
 "encoding":{"x":{"datum":21.54,"type":"quantitative","axis":null},"y":{"datum":-2.96,"type":"quantitative","axis":null}}}
]
}
